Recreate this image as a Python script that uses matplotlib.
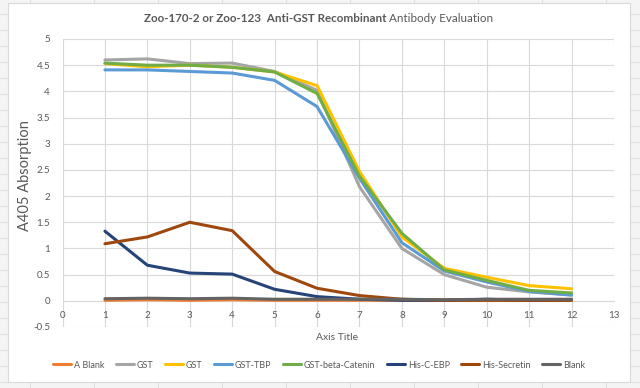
import matplotlib
matplotlib.use("Agg")
import matplotlib.pyplot as plt
from matplotlib.patches import Rectangle
from matplotlib.lines import Line2D

plt.rcParams["font.family"] = ["Lato", "DejaVu Sans"]

x = [1, 2, 3, 4, 5, 6, 7, 8, 9, 10, 11, 12]
series_names = ["A Blank", "GST", "GST", "GST-TBP", "GST-beta-Catenin",
                "His-C-EBP", "His-Secretin", "Blank"]
a_blank = [0.01, 0.02, 0.01, 0.02, 0.01, 0.01, 0.01, 0.01, 0.01, 0.01, 0.01, 0.01]
gst_gray = [4.60, 4.62, 4.53, 4.54, 4.38, 4.02, 2.18, 1.00, 0.50, 0.26, 0.17, 0.11]
gst_yellow = [4.53, 4.47, 4.50, 4.46, 4.37, 4.11, 2.47, 1.22, 0.62, 0.45, 0.29, 0.23]
gst_tbp = [4.41, 4.41, 4.38, 4.35, 4.21, 3.71, 2.34, 1.11, 0.57, 0.36, 0.18, 0.11]
gst_bcat = [4.54, 4.50, 4.50, 4.46, 4.37, 3.96, 2.38, 1.29, 0.59, 0.39, 0.20, 0.15]
his_cebp = [1.33, 0.68, 0.53, 0.51, 0.22, 0.08, 0.03, 0.01, 0.01, 0.03, 0.01, 0.02]
his_secretin = [1.09, 1.22, 1.50, 1.34, 0.56, 0.24, 0.10, 0.03, 0.01, 0.01, 0.01, 0.01]
blank = [0.04, 0.05, 0.04, 0.05, 0.03, 0.03, 0.03, 0.03, 0.02, 0.03, 0.03, 0.03]
data = [a_blank, gst_gray, gst_yellow, gst_tbp, gst_bcat, his_cebp, his_secretin, blank]
colors = ["#ED7D31", "#A5A5A5", "#FFC000", "#5B9BD5", "#70AD47",
          "#264478", "#9E480E", "#636363"]
xticks = list(range(0, 14))
yticks = [-0.5, 0, 0.5, 1, 1.5, 2, 2.5, 3, 3.5, 4, 4.5, 5]

W, H = 640, 388
fig = plt.figure(figsize=(6.4, 3.88), dpi=100)
fig.patch.set_facecolor("#F4F4F4")

# spreadsheet grid behind the chart box
for yy in range(6, H, 16):
    fig.add_artist(Line2D([0, 1], [yy / H, yy / H], color="#DCDCDC", lw=0.6, zorder=0))
for xx in range(30, W, 64):
    fig.add_artist(Line2D([xx / W, xx / W], [0, 1], color="#DCDCDC", lw=0.6, zorder=0))
fig.add_artist(Rectangle((8 / W, 1 - 382 / H), (630 - 8) / W, (382 - 3) / H,
                         transform=fig.transFigure, facecolor="white",
                         edgecolor="#D9D9D9", lw=0.8, zorder=1))

ax = fig.add_axes([62.5 / W, 1 - 327 / H, (614 - 62.5) / W, (327 - 39) / H])
ax.set_zorder(2)
ax.patch.set_alpha(0)
for vals, c, n in zip(data, colors, series_names):
    ax.plot(x, vals, color=c, lw=2.2, label=n, solid_capstyle="round", zorder=3)

ax.set_xlim(0, 13)
ax.set_ylim(-0.5, 5)
ax.set_xticks(xticks)
ax.set_yticks(yticks)
ax.set_yticklabels([("%g" % v) for v in yticks])
ax.grid(True, color="#D9D9D9", lw=0.8, zorder=0)
ax.set_axisbelow(True)
for s in ["top", "right", "left"]:
    ax.spines[s].set_visible(False)
ax.spines["bottom"].set_position(("data", 0))
ax.spines["bottom"].set_color("#D9D9D9")
ax.tick_params(length=0, labelsize=7, colors="#595959", pad=7)
ax.tick_params(axis="y", pad=9)

fig.text(25 / W, 1 - 176 / H, "A405 Absorption", rotation=90, ha="center",
         va="center", fontsize=10.5, color="#595959")
fig.text(337 / W, 1 - 338 / H, "Axis Title", ha="center", va="center",
         fontsize=7.5, color="#595959")

# title with bold and regular parts
fig.canvas.draw()
r = fig.canvas.get_renderer()
t1 = fig.text(0, 1 - 18 / H, "Zoo-170-2 or Zoo-123  Anti-GST Recombinant ",
              fontsize=8.5, fontweight="bold", color="#595959", va="center")
t2 = fig.text(0, 1 - 18 / H, "Antibody Evaluation", fontsize=8.5,
              color="#595959", va="center")
w1 = t1.get_window_extent(r).width
w2 = t2.get_window_extent(r).width
scale = 349.0 / (w1 + w2)
t1.set_fontsize(8.5 * scale)
t2.set_fontsize(8.5 * scale)
w1 = t1.get_window_extent(r).width
w2 = t2.get_window_extent(r).width
x0 = 318.5 - (w1 + w2) / 2
t1.set_x(x0 / W)
t2.set_x((x0 + w1) / W)

handles, labels = ax.get_legend_handles_labels()
fig.legend(handles, labels, loc="center", bbox_to_anchor=(319 / W, 1 - 365 / H),
           ncol=8, frameon=False, fontsize=6.5, handlelength=2.0,
           columnspacing=1.3, handletextpad=0.3, labelcolor="#595959",
           borderpad=0)

fig.savefig("out.png", dpi=100, facecolor=fig.get_facecolor())
